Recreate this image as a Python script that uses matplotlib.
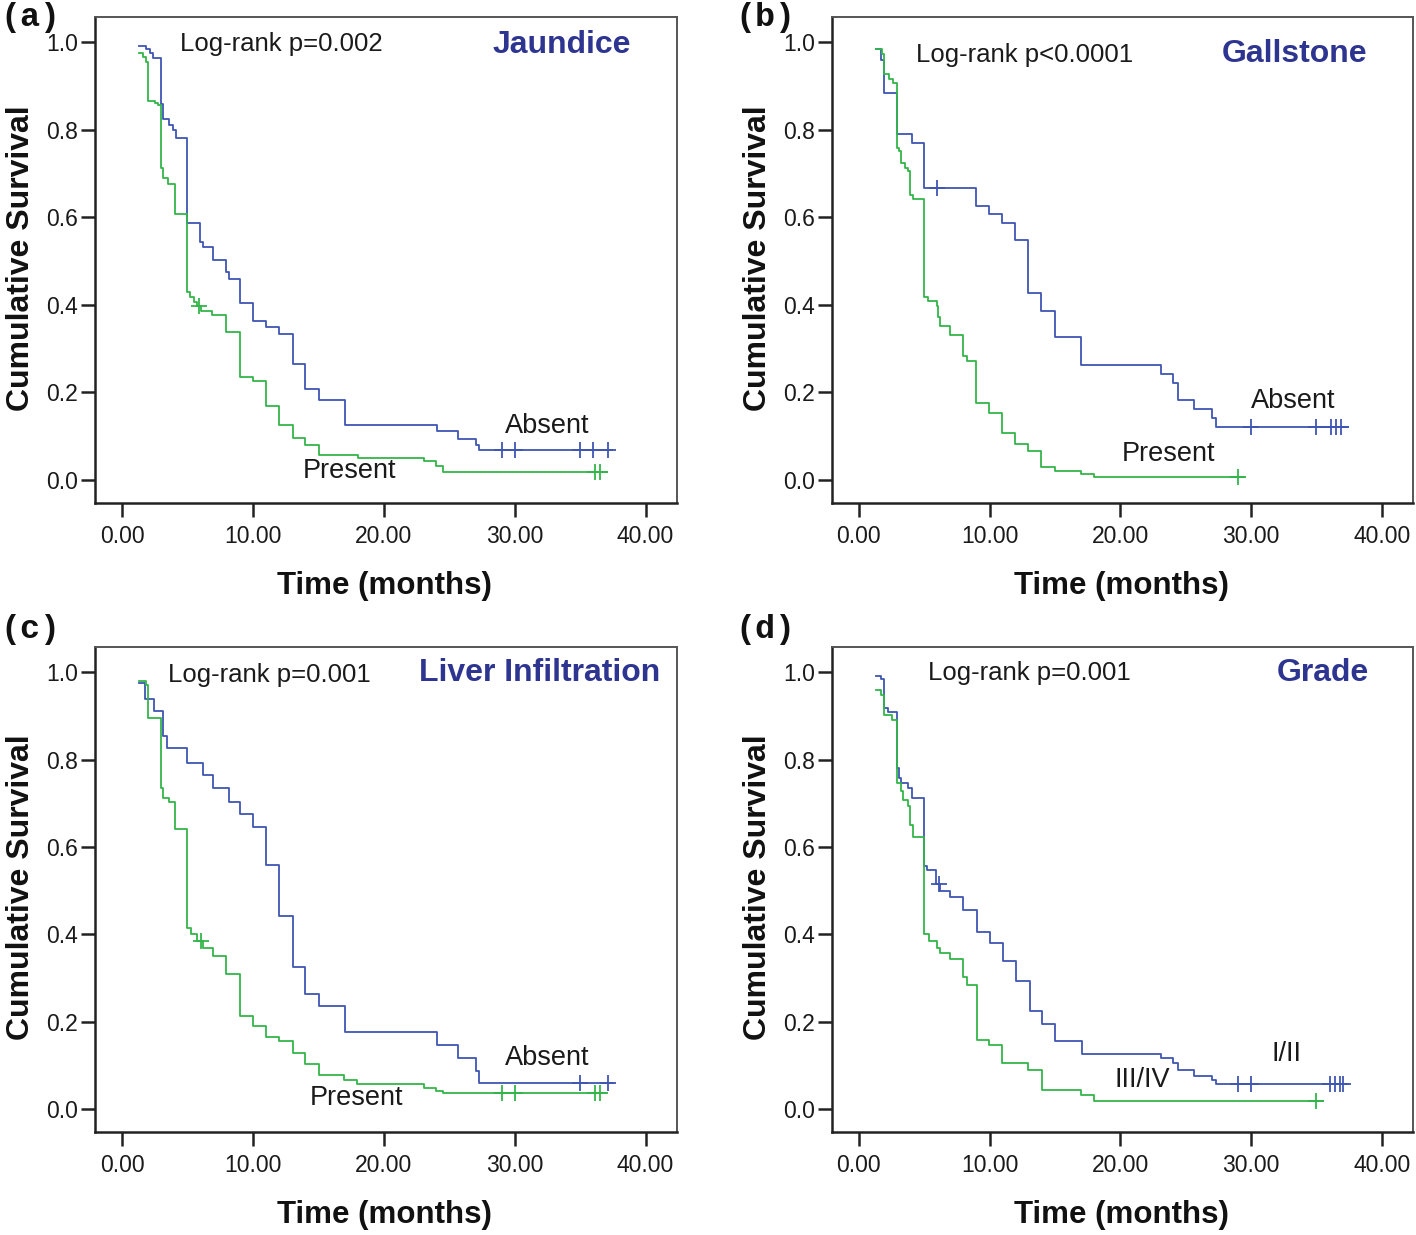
import numpy as np
import matplotlib
matplotlib.use("Agg")
import matplotlib.pyplot as plt

plt.rcParams['font.family'] = ['Liberation Sans', 'DejaVu Sans']

BLUE = '#3f55b3'
GREEN = '#33b54a'
NAVY = '#2e3590'

# ---------------- data ----------------
# (a) Jaundice
a_abs_t = [1.29, 1.87, 2.16, 2.36, 2.96, 3.17, 3.6, 3.88, 4.09, 4.95, 5.96, 6.19, 6.96, 7.97, 8.2,
           9.01, 9.99, 10.99, 12.03, 13.04, 14.01, 15.02, 17.07, 24.1, 25.7, 27.05, 27.3]
a_abs_s = [0.991, 0.984, 0.975, 0.964, 0.86, 0.824, 0.812, 0.80, 0.782, 0.588, 0.544, 0.533, 0.502,
           0.475, 0.46, 0.405, 0.362, 0.349, 0.333, 0.264, 0.208, 0.182, 0.126, 0.111, 0.093, 0.08, 0.069]
a_abs_c = [29.0, 30.0, 35.0, 36.0, 37.1]
a_abs_end = 37.4
a_pre_t = [1.29, 1.58, 1.87, 1.96, 2.53, 2.73, 2.96, 3.17, 3.51, 4.03, 4.95, 5.18, 5.47, 5.76, 6.04,
           6.91, 7.97, 9.01, 9.99, 10.99, 12.03, 13.04, 14.01, 15.02, 18.04, 23.1, 24.0, 24.5]
a_pre_s = [0.975, 0.966, 0.954, 0.867, 0.862, 0.857, 0.713, 0.69, 0.676, 0.608, 0.429, 0.418, 0.406,
           0.398, 0.387, 0.377, 0.337, 0.236, 0.226, 0.169, 0.126, 0.096, 0.08, 0.057, 0.05, 0.042,
           0.032, 0.019]
a_pre_c = [5.9, 36.1, 36.5]
a_pre_end = 37.06

# (b) Gallstone
b_abs_t = [1.29, 1.72, 1.92, 2.93, 4.07, 4.99, 8.95, 9.96, 10.96, 11.97, 12.97, 13.97, 14.98, 16.99,
           23.1, 24.0, 24.45, 25.65, 27.03, 27.3]
b_abs_s = [0.985, 0.96, 0.885, 0.79, 0.77, 0.668, 0.627, 0.607, 0.588, 0.548, 0.428, 0.387, 0.326,
           0.262, 0.241, 0.221, 0.182, 0.161, 0.142, 0.121]
b_abs_c = [6.0, 30.0, 35.0, 36.1, 36.5, 36.9]
b_abs_end = 37.4
b_pre_t = [1.29, 1.78, 1.92, 2.3, 2.64, 2.93, 3.07, 3.21, 3.5, 3.79, 3.93, 4.13, 4.99, 5.28, 6.0,
           6.08, 6.23, 7.0, 8.0, 8.24, 8.95, 9.96, 10.96, 11.97, 12.97, 13.97, 14.98, 16.99, 17.99]
b_pre_s = [0.985, 0.973, 0.927, 0.916, 0.908, 0.759, 0.751, 0.724, 0.713, 0.705, 0.651, 0.642, 0.418,
           0.408, 0.398, 0.372, 0.352, 0.33, 0.284, 0.272, 0.176, 0.152, 0.107, 0.083, 0.065, 0.029,
           0.021, 0.014, 0.006]
b_pre_c = [29.04]
b_pre_end = 29.5

# (c) Liver Infiltration
c_abs_t = [1.29, 1.73, 2.45, 3.17, 3.45, 4.95, 6.19, 6.96, 8.2, 9.0, 9.99, 10.99, 12.03, 13.04, 14.01,
           15.02, 17.07, 24.1, 25.7, 27.05, 27.3]
c_abs_s = [0.975, 0.94, 0.912, 0.853, 0.826, 0.792, 0.765, 0.735, 0.704, 0.676, 0.645, 0.558, 0.442,
           0.324, 0.264, 0.236, 0.175, 0.147, 0.117, 0.086, 0.059]
c_abs_c = [35.0, 37.1]
c_abs_end = 37.5
c_pre_t = [1.29, 1.87, 2.01, 3.02, 3.17, 3.6, 4.03, 4.95, 5.24, 5.76, 6.19, 6.96, 7.97, 9.0, 9.99,
           10.99, 12.03, 13.04, 14.01, 15.02, 16.98, 17.99, 23.1, 24.0, 24.5]
c_pre_s = [0.979, 0.971, 0.896, 0.735, 0.712, 0.704, 0.64, 0.415, 0.401, 0.385, 0.369, 0.35, 0.308,
           0.213, 0.19, 0.165, 0.155, 0.127, 0.103, 0.078, 0.065, 0.056, 0.048, 0.042, 0.036]
c_pre_c = [6.0, 29.0, 30.0, 36.1, 36.5]
c_pre_end = 37.0

# (d) Grade
d_low_t = [1.29, 1.72, 1.92, 2.21, 2.93, 3.07, 3.21, 3.79, 4.07, 4.99, 5.22, 5.9, 6.23, 7.0, 8.0,
           9.04, 10.0, 11.0, 12.05, 13.06, 14.03, 15.04, 17.07, 23.1, 24.0, 24.45, 25.65, 27.03, 27.3]
d_low_s = [0.992, 0.984, 0.918, 0.91, 0.781, 0.758, 0.747, 0.735, 0.713, 0.556, 0.548, 0.514, 0.499,
           0.485, 0.455, 0.406, 0.381, 0.339, 0.292, 0.224, 0.195, 0.155, 0.126, 0.117, 0.105, 0.088,
           0.076, 0.065, 0.057]
d_low_c = [6.1, 29.0, 30.0, 36.07, 36.44, 36.8, 37.07]
d_low_end = 37.4
d_high_t = [1.29, 1.72, 1.92, 2.5, 2.93, 3.21, 3.36, 3.79, 3.93, 4.13, 4.99, 5.37, 6.0, 6.23, 7.0,
            8.0, 8.24, 9.04, 9.96, 10.96, 12.97, 14.03, 17.0, 18.0]
d_high_s = [0.96, 0.948, 0.902, 0.891, 0.746, 0.727, 0.708, 0.693, 0.651, 0.623, 0.4, 0.385, 0.369,
            0.358, 0.343, 0.301, 0.283, 0.158, 0.146, 0.105, 0.09, 0.044, 0.031, 0.017]
d_high_c = [35.0]
d_high_end = 35.5

x_ticks = [0, 10, 20, 30, 40]
x_ticklabels = ['0.00', '10.00', '20.00', '30.00', '40.00']
y_ticks = [0.0, 0.2, 0.4, 0.6, 0.8, 1.0]
y_ticklabels = ['0.0', '0.2', '0.4', '0.6', '0.8', '1.0']

panels = [
    dict(label='(a)', title='Jaundice', p='Log-rank p=0.002', p_x=4.4, p_y=0.997, t_y=0.994,
         curves=[(a_abs_t, a_abs_s, a_abs_c, a_abs_end, BLUE), (a_pre_t, a_pre_s, a_pre_c, a_pre_end, GREEN)],
         names=[('Absent', 32.5, 0.123), ('Present', 17.4, 0.020)], t_x=38.9),
    dict(label='(b)', title='Gallstone', p='Log-rank p<0.0001', p_x=4.35, p_y=0.971, t_y=0.974,
         curves=[(b_abs_t, b_abs_s, b_abs_c, b_abs_end, BLUE), (b_pre_t, b_pre_s, b_pre_c, b_pre_end, GREEN)],
         names=[('Absent', 33.2, 0.180), ('Present', 23.7, 0.060)], t_x=38.9),
    dict(label='(c)', title='Liver Infiltration', p='Log-rank p=0.001', p_x=3.5, p_y=0.995, t_y=0.998,
         curves=[(c_abs_t, c_abs_s, c_abs_c, c_abs_end, BLUE), (c_pre_t, c_pre_s, c_pre_c, c_pre_end, GREEN)],
         names=[('Absent', 32.5, 0.117), ('Present', 17.9, 0.025)], t_x=41.1),
    dict(label='(d)', title='Grade', p='Log-rank p=0.001', p_x=5.3, p_y=0.998, t_y=0.998,
         curves=[(d_low_t, d_low_s, d_low_c, d_low_end, BLUE), (d_high_t, d_high_s, d_high_c, d_high_end, GREEN)],
         names=[('I/II', 32.7, 0.126), ('III/IV', 21.7, 0.067)], t_x=39.0),
]

fig = plt.figure(figsize=(14.16, 12.35), dpi=100)
W, H = 1416, 1235
boxes = [(95, 17, 677, 503), (832, 17, 1413, 503), (95, 647, 677, 1132), (832, 647, 1413, 1132)]
labpos = [(0, 2), (735, 2), (0, 614), (735, 614)]

for pan, (l, t, r, b), (lx, ly) in zip(panels, boxes, labpos):
    ax = fig.add_axes([l / W, 1 - b / H, (r - l) / W, (b - t) / H])
    for tt, ss, cc, end, col in pan['curves']:
        xs = list(tt) + [end]
        ys = list(ss) + [ss[-1]]
        ax.step(xs, ys, where='post', color=col, lw=1.3, zorder=3)
        tarr = np.array(tt)
        sarr = np.array(ss)
        cy = [sarr[np.searchsorted(tarr, c, side='right') - 1] for c in cc]
        ax.plot(cc, cy, linestyle='none', marker='+', ms=11, mew=1.3, color=col, zorder=4)
    ax.set_xlim(-2.06, 42.4)
    ax.set_ylim(-0.053, 1.058)
    ax.set_xticks(x_ticks)
    ax.set_xticklabels(x_ticklabels)
    ax.set_yticks(y_ticks)
    ax.set_yticklabels(y_ticklabels)
    ax.tick_params(axis='both', direction='out', length=10, width=1.8, color='#222222',
                   labelsize=16.5, labelcolor='#1a1a1a')
    ax.tick_params(axis='x', pad=6)
    ax.tick_params(axis='y', pad=2)
    for side in ['left', 'bottom']:
        ax.spines[side].set_linewidth(1.8)
        ax.spines[side].set_color('#222222')
    for side in ['top', 'right']:
        ax.spines[side].set_linewidth(1.4)
        ax.spines[side].set_color('#555555')
    ax.text(pan['p_x'], pan['p_y'], pan['p'], fontsize=18.5, ha='left', va='center', color='#1a1a1a')
    ax.text(pan['t_x'], pan['t_y'], pan['title'], fontsize=23, fontweight='bold', ha='right',
            va='center', color=NAVY)
    for name, nx, ny in pan['names']:
        ax.text(nx, ny, name, fontsize=19.5, ha='center', va='center', color='#1a1a1a')
    ax.text(-0.128, 0.504, 'Cumulative Survival', transform=ax.transAxes, rotation=90,
            fontsize=23, fontweight='bold', ha='center', va='center', color='#111111')
    ax.text(0.498, -0.171, 'Time (months)', transform=ax.transAxes,
            fontsize=22.5, fontweight='bold', ha='center', va='center', color='#111111')
    fig.text(lx / W, 1 - ly / H, pan['label'], family=['Liberation Mono', 'DejaVu Sans Mono'],
             fontweight='bold', fontsize=24, ha='left', va='top', color='#111111')

fig.savefig('out.png', dpi=100, facecolor='white')
